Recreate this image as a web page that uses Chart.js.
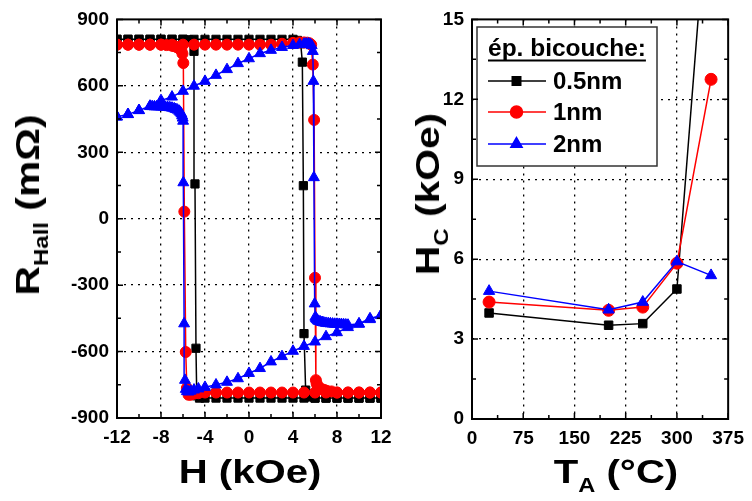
<!DOCTYPE html>
<html>
<head>
<meta charset="utf-8">
<script src="https://cdn.jsdelivr.net/npm/chart.js@4.4.0/dist/chart.umd.min.js"></script>
<style>
  body { margin: 0; background: #fff; }
  #wrap { position: relative; width: 752px; height: 501px; background: #fff; overflow: hidden;
          font-family: "Liberation Sans", Arial, sans-serif; font-weight: bold; color: #000; }
  .pane { position: absolute; top: 0; height: 501px; }
  .title { position: absolute; font-size: 34px; line-height: 34px; white-space: nowrap; }
  .title sub { font-size: 20px; line-height: 0; vertical-align: -9px; }
  .rot { transform: translate(-50%, -50%) rotate(-90deg) scaleX(1.2); }
  .hor { transform: translateX(-50%) scaleX(1.18); }
</style>
</head>
<body>
<div id="wrap">
  <div class="pane" style="left:0;width:400px"><canvas id="hallChart" width="400" height="501"></canvas></div>
  <div class="pane" style="left:400px;width:352px"><canvas id="hcChart" width="352" height="501"></canvas></div>
  <div class="title rot" style="left:27px;top:205px">R<sub>Hall</sub> (mΩ)</div>
  <div class="title hor" style="left:250px;top:454px">H (kOe)</div>
  <div class="title rot" style="left:427px;top:194px">H<sub>C</sub> (kOe)</div>
  <div class="title hor" style="left:616px;top:454px">T<sub>A</sub> (°C)</div>
</div>
<script>
// ---- left panel: Hall loops, field sweep down then back up ----
const hBlack = [12, 11, 10, 9, 8, 7, 6, 5, 4, 3, 2, 1, 0, -1, -2, -3, -4, -4.5, -4.75, -4.82, -4.91, -5.0, -5.2, -5.5, -6, -7, -8, -9, -10, -11, -12,
                -12, -11, -10, -9, -8, -7, -6, -5, -4, -3, -2, -1, 0, 1, 2, 3, 4, 4.4, 4.7, 4.85, 4.94, 5.0, 5.15, 5.4, 6, 7, 8, 9, 10, 11, 12];
const rBlack = [-810, -810, -810, -810, -810, -810, -810, -810, -810, -810, -810, -810, -810, -810, -810, -810, -810, -810, -800, -585, 157, 756, 800, 808, 810, 810, 810, 810, 810, 810, 810,
                810, 810, 810, 810, 810, 810, 810, 810, 810, 810, 810, 810, 810, 810, 810, 810, 810, 805, 790, 707, 149, -519, -774, -805, -810, -810, -810, -810, -810, -810, -810];

const hRed = [12, 11, 10, 9, 8, 7, 6, 5, 4, 3, 2, 1, 0, -1, -2, -3, -4, -4.6, -5, -5.3, -5.5, -5.65, -5.75, -5.88, -5.97, -6.05, -6.15, -6.3, -6.45, -6.6, -6.8, -7, -7.5, -8, -9, -10, -11, -12,
              -12, -11, -10, -9, -8, -7, -6, -5, -4, -3, -2, -1, 0, 1, 2, 3, 4, 4.6, 5, 5.3, 5.5, 5.65, 5.8, 5.92, 6.0, 6.08, 6.15, 6.25, 6.35, 6.45, 6.6, 6.75, 6.9, 7.06, 7.5, 8, 9, 10, 11, 12];
const rRed = [-785, -785, -785, -785, -785, -785, -785, -785, -785, -785, -785, -785, -785, -785, -785, -785, -785, -788, -790, -795, -795, -765, -602, 32, 703, 745, 760, 768, 772, 776, 779, 781, 784, 786, 786, 786, 786, 786,
              786, 786, 786, 786, 786, 786, 786, 786, 786, 786, 786, 786, 786, 786, 786, 790, 794, 796, 796, 795, 792, 786, 696, 446, -267, -729, -745, -755, -762, -767, -770, -772, -775, -777, -780, -785, -785, -785, -785, -785];

const hBlue = [-12, -11, -10, -9, -8, -7, -6, -5, -4, -3, -2, -1, 0, 1, 2, 3, 4, 4.6, 5, 5.2, 5.4, 5.55, 5.7, 5.8, 5.85, 5.9, 5.97, 6.03,
               6.08, 6.15, 6.25, 6.35, 6.5, 6.65, 6.8, 7.0, 7.2, 7.4, 7.6, 7.8, 8.0, 8.2, 8.4, 8.6, 8.8, 9, 10, 11, 12,
               12, 11, 10, 9, 8, 7, 6, 5, 4, 3, 2, 1, 0, -1, -2, -3, -4, -4.6, -5, -5.3, -5.5, -5.65, -5.75, -5.82, -5.9, -5.97, -5.99,
               -6.03, -6.08, -6.15, -6.25, -6.35, -6.5, -6.65, -6.8, -7.0, -7.2, -7.4, -7.6, -7.8, -8.0, -8.2, -8.4, -8.6, -8.8, -9, -10, -11, -12];
const rBlue = [460, 471, 489, 509, 534, 550, 576, 599, 621, 648, 674, 701, 723, 746, 761, 774, 783, 787, 789, 790, 790, 788, 782, 756, 621, 186, -384, -444,
               -450, -455, -460, -463, -466, -468, -470, -472, -473, -474, -475, -476, -476, -477, -477, -478, -479, -480, -474, -451, -437,
               -435, -455, -476, -491, -514, -532, -556, -576, -598, -622, -646, -676, -698, -722, -738, -750, -761, -768, -773, -778, -782, -780, -770, -729, -474, 163, 441,
               455, 465, 474, 481, 486, 491, 494, 497, 500, 502, 503, 504, 505, 505, 506, 506, 506, 507, 507, 489, 471, 460];

// ---- right panel: coercive field vs annealing temperature ----
const tAnneal = [25, 200, 250, 300, 350];
const hc05 = [3.98, 3.52, 3.58, 4.88, 21.2];
const hc1 = [4.39, 4.08, 4.2, 5.85, 12.75];
const hc2 = [4.8, 4.1, 4.39, 5.91, 5.39];
const seriesNames = ['0.5nm', '1nm', '2nm'];

const FONT = '"Liberation Sans", Arial, sans-serif';

function pts(xs, ys) {
    return xs.map((v, i) => ({ x: v, y: ys[i] }));
}

function isMajor(v, step) {
    return Math.abs(v / step - Math.round(v / step)) < 1e-6;
}

// inward ticks on all four sides + solid frame
const frameTicks = {
    id: 'frameTicks',
    afterDraw(chart, args, opts) {
        const ctx = chart.ctx;
        const a = chart.chartArea;
        const xs = chart.scales.x, ys = chart.scales.y;
        ctx.save();
        ctx.strokeStyle = '#000';
        ctx.lineWidth = 1.5;
        ctx.beginPath();
        xs.ticks.forEach(t => {
            const px = xs.getPixelForValue(t.value);
            const len = isMajor(t.value, opts.xMajor) ? 6 : 4;
            ctx.moveTo(px, a.bottom); ctx.lineTo(px, a.bottom - len);
            ctx.moveTo(px, a.top); ctx.lineTo(px, a.top + len);
        });
        ys.ticks.forEach(t => {
            const py = ys.getPixelForValue(t.value);
            const len = isMajor(t.value, opts.yMajor) ? 6 : 4;
            ctx.moveTo(a.left, py); ctx.lineTo(a.left + len, py);
            ctx.moveTo(a.right, py); ctx.lineTo(a.right - len, py);
        });
        ctx.stroke();
        ctx.lineWidth = 2;
        ctx.strokeRect(a.left, a.top, a.right - a.left, a.bottom - a.top);
        ctx.restore();
    }
};

// boxed legend with underlined title (right panel)
const legendBox = {
    id: 'legendBox',
    afterDatasetsDraw(chart) {
        const ctx = chart.ctx;
        const bx = 77, by = 27, bw = 180, bh = 139;
        ctx.save();
        ctx.fillStyle = '#fff';
        ctx.fillRect(bx, by, bw, bh);
        ctx.strokeStyle = '#333';
        ctx.lineWidth = 1.5;
        ctx.strokeRect(bx, by, bw, bh);

        ctx.fillStyle = '#000';
        ctx.font = 'bold 24.5px ' + FONT;
        ctx.textBaseline = 'alphabetic';
        const title = 'ép. bicouche:';
        ctx.fillText(title, 88, 56);
        const tw = ctx.measureText(title).width;
        ctx.fillRect(88, 59.5, tw, 2);

        const rows = [81, 112, 144];
        const order = [2, 1, 0]; // datasets are stored blue, red, black
        order.forEach((di, k) => {
            const ds = chart.data.datasets[di];
            const y = rows[k];
            ctx.strokeStyle = ds.borderColor;
            ctx.lineWidth = 1.5;
            ctx.beginPath();
            ctx.moveTo(88, y); ctx.lineTo(146, y);
            ctx.stroke();
            ctx.fillStyle = ds.pointBackgroundColor;
            Chart.helpers.drawPoint(ctx, { pointStyle: ds.pointStyle, radius: ds.pointRadius, rotation: 0, borderWidth: 1 }, 116.5, y);
            ctx.fillStyle = '#000';
            ctx.font = 'bold 24px ' + FONT;
            ctx.textBaseline = 'middle';
            ctx.fillText(ds.label, 153, y + 1);
        });
        ctx.restore();
    }
};

function makeAxis(min, max, step, major, fitSize, isX) {
    return {
        type: 'linear',
        min: min,
        max: max,
        afterFit: s => { if (isX) s.height = fitSize; else s.width = fitSize; },
        ticks: {
            stepSize: step,
            autoSkip: false,
            maxRotation: 0,
            padding: 8,
            color: '#000',
            font: { family: FONT, size: 19, weight: 'bold' },
            callback: v => isMajor(v, major) ? String(v) : ''
        },
        grid: {
            drawTicks: false,
            lineWidth: 1.3,
            color: c => (isMajor(c.tick.value, major) && c.tick.value > min && c.tick.value < max) ? '#000' : 'rgba(0,0,0,0)'
        },
        border: { display: false, dash: [2, 5] }
    };
}

function line(label, data, color, style, radius, order) {
    return {
        label: label,
        data: data,
        showLine: true,
        borderColor: color,
        backgroundColor: color,
        pointBackgroundColor: color,
        pointBorderColor: color,
        borderWidth: 1.5,
        pointStyle: style,
        pointRadius: radius,
        pointBorderWidth: 1,
        order: order
    };
}

new Chart(document.getElementById('hallChart').getContext('2d'), {
    type: 'scatter',
    data: {
        datasets: [
            line('2nm', pts(hBlue, rBlue), '#0000ff', 'triangle', 6.3, 1),
            line('1nm', pts(hRed, rRed), '#ff0000', 'circle', 5.5, 2),
            line('0.5nm', pts(hBlack, rBlack), '#000000', 'rect', 5.8, 3)
        ]
    },
    options: {
        responsive: false,
        animation: false,
        layout: { padding: { top: 18, right: 19, left: 0, bottom: 0 } },
        scales: {
            x: makeAxis(-12, 12, 2, 4, 83, true),
            y: makeAxis(-900, 900, 150, 300, 117, false)
        },
        plugins: {
            legend: { display: false },
            tooltip: { enabled: false },
            frameTicks: { xMajor: 4, yMajor: 300 }
        }
    },
    plugins: [frameTicks]
});

new Chart(document.getElementById('hcChart').getContext('2d'), {
    type: 'scatter',
    data: {
        datasets: [
            line(seriesNames[2], pts(tAnneal, hc2), '#0000ff', 'triangle', 6.5, 1),
            line(seriesNames[1], pts(tAnneal, hc1), '#ff0000', 'circle', 6, 2),
            line(seriesNames[0], pts(tAnneal, hc05), '#000000', 'rect', 6, 3)
        ]
    },
    options: {
        responsive: false,
        animation: false,
        layout: { padding: { top: 19, right: 17, left: 0, bottom: 0 } },
        scales: {
            x: makeAxis(0, 375, 37.5, 75, 82, true),
            y: makeAxis(0, 15, 1.5, 3, 72, false)
        },
        plugins: {
            legend: { display: false },
            tooltip: { enabled: false },
            frameTicks: { xMajor: 75, yMajor: 3 }
        }
    },
    plugins: [frameTicks, legendBox]
});
</script>
</body>
</html>
